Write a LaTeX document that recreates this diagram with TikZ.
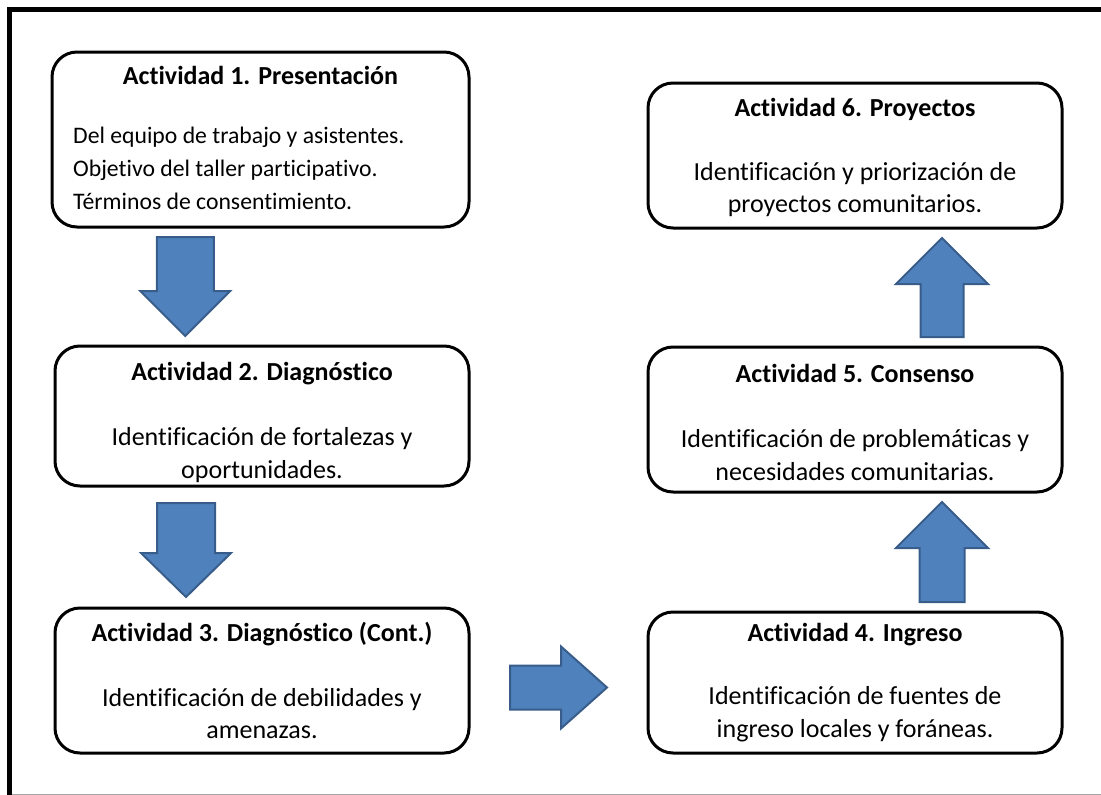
\documentclass[tikz,border=0pt]{standalone}
\usepackage{fontspec}
\setmainfont[Ligatures=NoCommon]{Carlito}
\usetikzlibrary{calc}
\definecolor{arrfill}{HTML}{4F81BD}
\definecolor{arrdraw}{HTML}{385D8A}
\tikzset{
  box/.style={draw=black, line width=3pt, rounded corners=25pt, fill=white, inner sep=0pt},
  ttl/.style={font=\fontsize{26}{30}\selectfont\bfseries, inner sep=0pt},
  bodytxt/.style={font=\fontsize{26}{32.5}\selectfont, align=center, inner sep=0pt},
  blockarr/.style={fill=arrfill, draw=arrdraw, line width=2pt, line join=miter},
}
% #1 center, #2 rotation, #3 length, #4 shaft, #5 head width, #6 head length
\newcommand{\blkarrow}[6]{%
  \draw[blockarr, shift={(#1)}, rotate=#2]
    (-#3/2,-#4/2) -- (#3/2-#6,-#4/2) -- (#3/2-#6,-#5/2) -- (#3/2,0)
    -- (#3/2-#6,#5/2) -- (#3/2-#6,#4/2) -- (-#3/2,#4/2) -- cycle;}
\begin{document}
\begin{tikzpicture}[x=1pt,y=-1pt]
\useasboundingbox (0,0) rectangle (1101,795);
% frame
\draw[line width=5pt, line cap=rect] (9,795) -- (9,9.5) -- (1101,9.5);
\draw[line width=1pt, gray!70] (12,794) -- (1101,794);
% boxes
\node[box, minimum width=417pt, minimum height=175pt] (b1) at (260.5,139.5) {};
\node[box, minimum width=414pt, minimum height=140pt] (b2) at (262,416) {};
\node[box, minimum width=414pt, minimum height=145pt] (b3) at (262,680.5) {};
\node[box, minimum width=414pt, minimum height=141pt] (b4) at (855,682.5) {};
\node[box, minimum width=414pt, minimum height=145pt] (b5) at (855,419.5) {};
\node[box, minimum width=414pt, minimum height=145pt] (b6) at (855,155.5) {};
% titles
\node[ttl] (t1) at ($(b1.north)+(0,25)$) {Actividad 1. Presentación};
\node[ttl] (t2) at ($(b2.north)+(0,29)$) {Actividad 2. Diagnóstico};
\node[ttl] (t3) at ($(b3.north)+(0,28)$) {Actividad 3. Diagnóstico (Cont.)};
\node[ttl] (t4) at ($(b4.north)+(0,24)$) {Actividad 4. Ingreso};
\node[ttl] (t5) at ($(b5.north)+(0,28)$) {Actividad 5. Consenso};
\node[ttl] (t6) at ($(b6.north)+(0,28)$) {Actividad 6. Proyectos};
% bodies
\node[bodytxt, font=\fontsize{23.7}{33}\selectfont, align=left, anchor=west] (d1) at (73,168) {Del equipo de trabajo y asistentes.\\Objetivo del taller participativo.\\Términos de consentimiento.};
\node[bodytxt] (d2) at (262,455) {Identificación de fortalezas y\\oportunidades.};
\node[bodytxt] (d3) at (262,713.5) {Identificación de debilidades y\\amenazas.};
\node[bodytxt] (d4) at (855,714) {Identificación de fuentes de\\ingreso locales y foráneas.};
\node[bodytxt] (d5) at (855,455) {Identificación de problemáticas y\\necesidades comunitarias.};
\node[bodytxt] (d6) at (855,189.5) {Identificación y priorización de\\proyectos comunitarios.};
% arrow positions
\coordinate (a12) at ($(b1.south)!0.5!(b2.north)+(-76,0)$);
\coordinate (a23) at ($(b2.south)!0.5!(b3.north)+(-76,3)$);
\coordinate (a34) at ($(b3.east)!0.5!(b4.west)+(0,6)$);
\coordinate (a45) at ($(b4.north)!0.5!(b5.south)+(87,0)$);
\coordinate (a56) at ($(b5.north)!0.5!(b6.south)+(87,0)$);
\blkarrow{a12}{-90}{99}{57}{90}{45}
\blkarrow{a23}{-90}{94}{58}{90}{44}
\blkarrow{a34}{0}{97}{44}{82}{46}
\blkarrow{a45}{90}{100}{45}{92}{46}
\blkarrow{a56}{90}{99}{43}{92}{46}
\end{tikzpicture}
\end{document}
